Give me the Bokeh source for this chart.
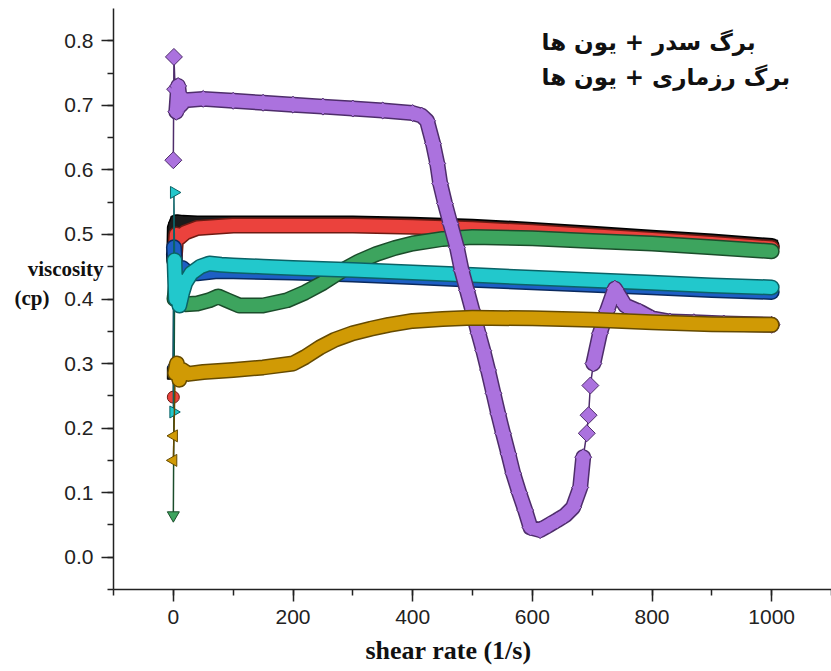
import math
from bokeh.plotting import figure
from bokeh.models import (Range1d, SingleIntervalTicker, FixedTicker, PrintfTickFormatter, Label,
                          LinearAxis, Title)
from bokeh.embed import file_html
from bokeh.resources import INLINE

# ---------------- data ----------------
black_x = [0, 1, 1.5, 2.5, 6, 15, 40, 100, 200, 300, 400, 500, 600, 700, 800, 900, 1000]
black_y = [0.285, 0.47, 0.46, 0.51, 0.519, 0.518, 0.517, 0.517, 0.517, 0.517, 0.515, 0.512, 0.507, 0.501, 0.495, 0.489, 0.482]

red_x = [0, 2, 5, 10, 20, 40, 100, 200, 300, 400, 500, 600, 700, 800, 900, 1000]
red_y = [0.248, 0.46, 0.50, 0.495, 0.503, 0.51, 0.514, 0.514, 0.514, 0.512, 0.509, 0.504, 0.498, 0.492, 0.486, 0.479]

blue_x = [0, 1, 3, 8, 15, 25, 40, 70, 100, 200, 300, 400, 500, 600, 700, 800, 900, 1000]
blue_y = [0.30, 0.48, 0.45, 0.44, 0.448, 0.44, 0.44, 0.443, 0.443, 0.441, 0.438, 0.434, 0.430, 0.426, 0.422, 0.418, 0.414, 0.411]

green_x = [0, 2, 5, 10, 20, 40, 60, 75, 90, 110, 150, 190, 220, 250, 280, 310, 340, 370, 400,
           450, 500, 600, 700, 800, 900, 1000]
green_y = [0.065, 0.40, 0.425, 0.40, 0.392, 0.393, 0.398, 0.404, 0.398, 0.39, 0.39, 0.398, 0.41, 0.425,
           0.443, 0.458, 0.47, 0.479, 0.486, 0.493, 0.496, 0.494, 0.490, 0.486, 0.480, 0.474]

cyan_x = [0, 1, 2, 4, 7, 10, 15, 20, 30, 45, 60, 80, 100, 150, 200, 300, 400, 500, 600, 700, 800, 900, 1000]
cyan_y = [0.225, 0.565, 0.46, 0.40, 0.43, 0.39, 0.41, 0.425, 0.44, 0.45, 0.455, 0.453, 0.452, 0.450, 0.448,
          0.445, 0.441, 0.437, 0.433, 0.429, 0.425, 0.421, 0.418]

purple_x = [0, 1, 3, 5, 8, 12, 20, 50, 100, 150, 200, 250, 300, 350, 400, 415, 424, 434, 441, 446, 454,
            463, 474, 482, 491, 500, 510, 518, 526, 535, 543, 551, 560, 568, 578, 588, 597, 613, 628,
            641, 655, 668, 680, 685, 691, 694, 697, 702, 713, 725, 738, 755, 780, 800, 830, 870, 920, 1000]
purple_y = [0.615, 0.775, 0.725, 0.69, 0.73, 0.70, 0.708, 0.71, 0.707, 0.704, 0.701, 0.698, 0.695, 0.692,
            0.688, 0.684, 0.676, 0.641, 0.61, 0.579, 0.548, 0.517, 0.48, 0.444, 0.413, 0.382, 0.347,
            0.32, 0.29, 0.254, 0.222, 0.192, 0.16, 0.13, 0.10, 0.073, 0.046, 0.042, 0.05, 0.057, 0.065,
            0.077, 0.108, 0.155, 0.192, 0.220, 0.266, 0.30, 0.347, 0.382, 0.416, 0.39, 0.38, 0.37,
            0.365, 0.364, 0.362, 0.36]

gold_x = [0, 1, 3, 6, 10, 15, 25, 50, 100, 150, 200, 220, 245, 270, 300, 330, 360, 400, 450, 500,
          600, 700, 800, 900, 1000]
gold_y = [0.15, 0.188, 0.285, 0.30, 0.275, 0.29, 0.284, 0.287, 0.29, 0.294, 0.30, 0.31, 0.325, 0.337,
          0.347, 0.354, 0.36, 0.366, 0.369, 0.371, 0.370, 0.368, 0.364, 0.361, 0.360]

x_ticks_interval = 200
y_ticks_interval = 0.1
legend_lines = ["برگ سدر + یون ها", "برگ رزماری + یون ها"]
x_title = "shear rate (1/s)"
y_title_words = {0.446: "viscosity", 0.402: "(cp)"}

# name, x, y, fill, edge, marker, angle, band index ranges
series = [
    ("black", black_x, black_y, "#1b1b1b", "#000000", "square", 0.0, [(1, None)]),
    ("red", red_x, red_y, "#EB423D", "#6e1a12", "circle", 0.0, [(1, None)]),
    ("blue", blue_x, blue_y, "#1E5FC4", "#0a2a5e", "triangle", 0.0, [(1, None)]),
    ("green", green_x, green_y, "#3DA45E", "#1b4d2b", "inverted_triangle", 0.0, [(1, None)]),
    ("cyan", cyan_x, cyan_y, "#22C8CC", "#0b6266", "triangle", -math.pi / 2, [(2, None)]),
    ("purple", purple_x, purple_y, "#AB72DE", "#4e2d6b", "square", math.pi / 4, [(3, 44), (47, None)]),
    ("gold", gold_x, gold_y, "#D09A05", "#654a00", "triangle", math.pi / 2, [(2, None)]),
]

p = figure(width=831, height=671, x_range=Range1d(-100, 1100), y_range=Range1d(-0.05, 0.85),
           output_backend="svg", toolbar_location=None,
           min_border_left=113, min_border_right=0, min_border_top=8, min_border_bottom=82)

p.xgrid.visible = False
p.ygrid.visible = False
p.outline_line_color = None
p.background_fill_color = "white"
p.border_fill_color = "white"

p.xaxis.ticker = SingleIntervalTicker(interval=x_ticks_interval, num_minor_ticks=2)
p.yaxis.ticker = SingleIntervalTicker(interval=y_ticks_interval, num_minor_ticks=2)
p.yaxis.formatter = PrintfTickFormatter(format="%.1f")
for ax in (p.xaxis, p.yaxis):
    ax.axis_line_width = 1.5
    ax.axis_line_color = "#222222"
    ax.major_tick_line_width = 1.5
    ax.minor_tick_line_width = 1.5
    ax.major_tick_line_color = "#222222"
    ax.minor_tick_line_color = "#222222"
    ax.major_tick_in = 0
    ax.major_tick_out = 12
    ax.minor_tick_in = 0
    ax.minor_tick_out = 6
    ax.major_label_text_font = "Liberation Sans"
    ax.major_label_text_font_size = "21px"
    ax.major_label_text_color = "#222222"
    ax.major_label_standoff = 8

# y title words, written as labels of two bare extra left axes
for (yv, word), standoff in zip(y_title_words.items(), (-42, -25)):
    ax = LinearAxis(ticker=FixedTicker(ticks=[yv], minor_ticks=[]),
                    major_label_overrides={yv: word})
    ax.axis_line_color = None
    ax.major_tick_line_color = None
    ax.minor_tick_line_color = None
    ax.major_tick_out = 0
    ax.major_tick_in = 0
    ax.major_label_standoff = standoff
    ax.major_label_text_font = "Liberation Serif"
    ax.major_label_text_font_style = "bold"
    ax.major_label_text_font_size = "21px"
    ax.major_label_text_color = "#111111"
    p.add_layout(ax, "left")

for name, xs, ys, fill, edge, marker, ang, bands in series:
    p.line(xs, ys, line_color=edge, line_width=1.5)
    for a, b in bands:
        p.line(xs[a:b], ys[a:b], line_color=edge, line_width=16, line_cap="round", line_join="round")
    p.scatter(xs, ys, marker=marker, angle=ang, size=12, fill_color=fill, line_color=edge, line_width=1)
    for a, b in bands:
        p.line(xs[a:b], ys[a:b], line_color=fill, line_width=13, line_cap="round", line_join="round")

# legend text (top right)
for i, t in enumerate(legend_lines):
    p.add_layout(Label(x=428, y=548 - 35 * i, x_units="screen", y_units="screen", text=t,
                       text_font="DejaVu Sans", text_font_style="bold", text_font_size="23px",
                       text_align="left", text_baseline="middle", text_color="#111111"))

# x title
p.add_layout(Title(text=x_title, align="left", offset=252, standoff=14,
                   text_font="Liberation Serif", text_font_style="bold", text_font_size="26px",
                   text_color="#111111"), "below")

open("out.html", "w").write(file_html(p, INLINE))
